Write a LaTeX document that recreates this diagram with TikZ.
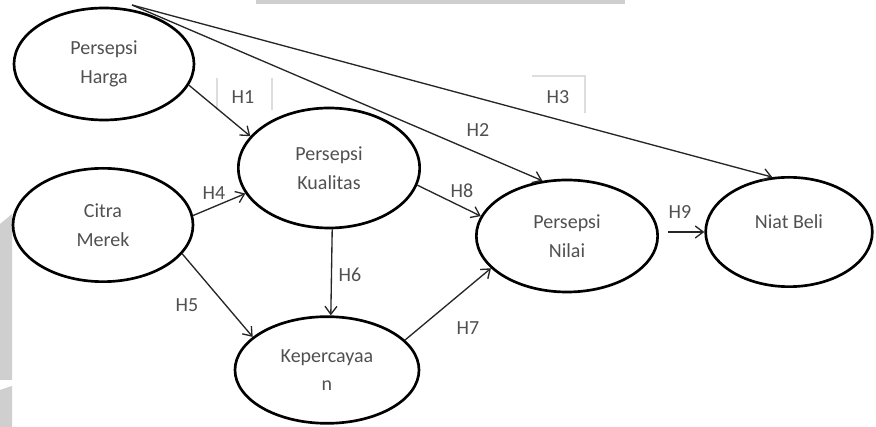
\documentclass[tikz,border=0pt]{standalone}
\usepackage{fontspec}
\setmainfont{Carlito}
\usetikzlibrary{shapes.geometric,arrows.meta}
\definecolor{txt}{HTML}{505050}
\definecolor{wm}{HTML}{CFCFCF}
\definecolor{boxln}{HTML}{DDDDDD}
\tikzset{
  var/.style={ellipse,draw=black,line width=2pt,inner sep=0pt,align=center,
    text=txt,font=\fontsize{15}{21.5}\selectfont},
  link/.style={draw=black!85,line width=1pt,-{Straight Barb[length=6pt,width=9pt,line width=1pt]}},
  lab/.style={text=txt,font=\fontsize{15}{17}\selectfont,inner sep=0pt},
  faint/.style={draw=boxln,line width=0.8pt}
}
\begin{document}
\begin{tikzpicture}[x=0.75pt,y=-0.75pt]
\useasboundingbox (0,0) rectangle (876,427);
% watermark fragments
\fill[wm] (256,0) rectangle (625,4);
\fill[wm] (0,224) -- (12,214) -- (12,380) -- (0,380) -- cycle;
\fill[wm] (0,390) -- (12,386) -- (12,427) -- (0,427) -- cycle;
% nodes
\node[var,minimum width=135pt,minimum height=84pt] (PH) at (104,64) {Persepsi\\Harga};
\node[var,minimum width=135pt,minimum height=85pt] (CM) at (103,225) {Citra\\Merek};
\node[var,minimum width=136pt,minimum height=90pt] (PK) at (329,168) {Persepsi\\Kualitas};
\node[var,minimum width=138pt,minimum height=80pt] (KP) at (327,370) {Kepercayaa\\n};
\node[var,minimum width=136pt,minimum height=84pt] (PN) at (567,236) {Persepsi\\Nilai};
\node[var,minimum width=125pt,minimum height=82pt,text depth=16pt] (NB) at (789,232) {Niat Beli};
\coordinate (S) at (132,5);
% faint label boxes
\draw[faint] (217,78) -- (217,110);
\draw[faint] (272,78) -- (272,110);
\draw[faint] (532,76) -- (585,76) -- (585,113);
% connectors
\draw[link] (PH.-14) -- (PK.158);
\draw[link] (S) -- (PN.114);
\draw[link] (S) -- (NB.107);
\draw[link] (CM.6) -- (PK.197);
\draw[link] (CM.-20) -- (KP.156);
\draw[link] (PK.-87) -- (KP.86);
\draw[link] (KP.21) -- (PN.203);
\draw[link] (PK.-11) -- (PN.167);
\draw[link,shorten <=7pt] (PN.east |- NB.west) -- (NB.west);
% labels
\node[lab] (L1) at (243,97) {H1};
\node[lab] (L2) at (478,130) {H2};
\node[lab] (L3) at (558,97) {H3};
\node[lab] (L4) at (214,193) {H4};
\node[lab] (L5) at (187,305) {H5};
\node[lab] (L6) at (350,275) {H6};
\node[lab] (L7) at (468,328) {H7};
\node[lab] (L8) at (462,191) {H8};
\node[lab] (L9) at (680,212) {H9};
\end{tikzpicture}
\end{document}
